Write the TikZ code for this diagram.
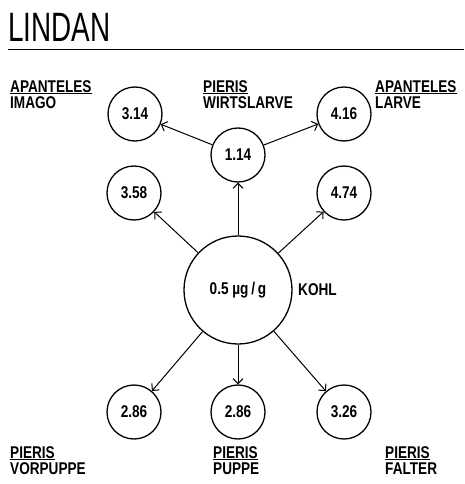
\documentclass[tikz,border=0pt]{standalone}
\usepackage{fontspec}
\setmainfont[FakeStretch=0.8]{Liberation Sans}
\newfontfamily\titlefont[FakeStretch=0.68]{Liberation Sans}
\usetikzlibrary{arrows.meta}

\tikzset{
  conc/.style={circle, draw, line width=1.3pt, minimum size=54pt, inner sep=0pt,
    font=\fontsize{17}{17}\selectfont\bfseries},
  bigconc/.style={conc, minimum size=108pt},
  tag/.style={anchor=north west, align=left, inner sep=0pt,
    font=\fontsize{17}{16}\selectfont\bfseries},
  flow/.style={-{Straight Barb[length=5pt,width=10pt]}, line width=1pt},
}

\begin{document}
\begin{tikzpicture}[x=1pt,y=-1pt]
  \useasboundingbox (0,0) rectangle (464,484);

  % title
  \node[anchor=west, inner sep=0pt, font=\fontsize{41}{41}\titlefont] (title) at (8,27) {LINDAN};
  \draw[line width=1pt] (8,50) -- (464,50);

  % nodes
  \node[bigconc] (kohl) at (238,290) {0.5 µg\,/\,g};
  \node[conc] (wirt) at (238,155) {1.14};
  \node[conc] (imago) at (135,114) {3.14};
  \node[conc] (larve) at (344,114) {4.16};
  \node[conc] (left) at (134,193) {3.58};
  \node[conc] (right) at (344,193) {4.74};
  \node[conc] (vorp) at (134,412) {2.86};
  \node[conc] (puppe) at (238,412) {2.86};
  \node[conc] (falter) at (344,412) {3.26};
  \node[anchor=west, inner sep=0pt, font=\fontsize{17}{17}\selectfont\bfseries] (kohltag) at (298,290) {KOHL};

  % arrows
  \draw[flow] (wirt) -- (imago);
  \draw[flow] (wirt) -- (larve);
  \draw[flow] (kohl) -- (wirt);
  \draw[flow] (kohl) -- (left);
  \draw[flow] (kohl) -- (right);
  \draw[flow] (kohl) -- (vorp);
  \draw[flow] (kohl) -- (puppe);
  \draw[flow] (kohl) -- (falter);

  % labels
  \node[tag] (t1) at (10,80) {\underline{APANTELES}\\IMAGO};
  \node[tag] (t2) at (203,80) {\underline{PIERIS}\\WIRTSLARVE};
  \node[tag] (t3) at (375,80) {\underline{APANTELES}\\LARVE};
  \node[tag] (t4) at (10,446) {\underline{PIERIS}\\VORPUPPE};
  \node[tag] (t5) at (213,446) {\underline{PIERIS}\\PUPPE};
  \node[tag] (t6) at (385,446) {\underline{PIERIS}\\FALTER};

\end{tikzpicture}
\end{document}
